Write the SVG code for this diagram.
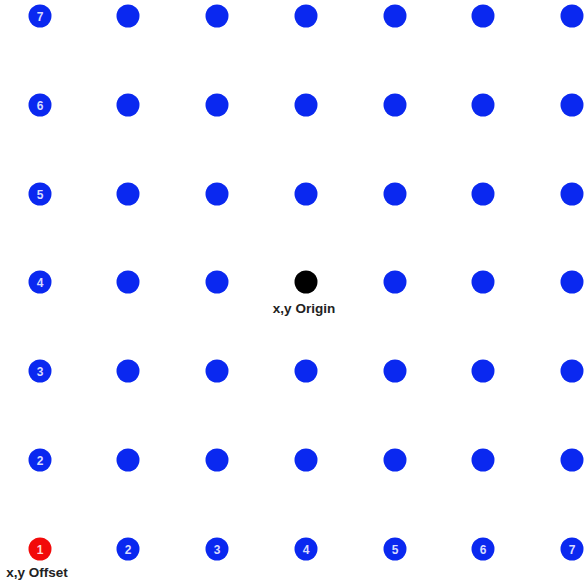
<svg xmlns="http://www.w3.org/2000/svg" width="587" height="583" viewBox="0 0 587 583">
<style>
.b{fill:#0a28f0}
.r{fill:#f20a0a}
.k{fill:#000}
.n{font-family:"Liberation Sans",Arial,sans-serif;font-size:12px;font-weight:bold;fill:#d8dcff;text-anchor:middle}
.l{font-family:"Liberation Sans",Arial,sans-serif;font-size:13.5px;font-weight:bold;fill:#222;text-anchor:middle}
</style>
<rect width="587" height="583" fill="#fff"/>
<g id="row7">
<g id="n-1-7"><circle class="b" cx="40" cy="16" r="11.5"/><text class="n" x="40" y="20.5">7</text></g>
<circle class="b" cx="128" cy="16" r="11.5"/><circle class="b" cx="217" cy="16" r="11.5"/><circle class="b" cx="306" cy="16" r="11.5"/><circle class="b" cx="395" cy="16" r="11.5"/><circle class="b" cx="483" cy="16" r="11.5"/><circle class="b" cx="572" cy="16" r="11.5"/>
</g>
<g id="row6">
<g id="n-1-6"><circle class="b" cx="40" cy="105" r="11.5"/><text class="n" x="40" y="109.5">6</text></g>
<circle class="b" cx="128" cy="105" r="11.5"/><circle class="b" cx="217" cy="105" r="11.5"/><circle class="b" cx="306" cy="105" r="11.5"/><circle class="b" cx="395" cy="105" r="11.5"/><circle class="b" cx="483" cy="105" r="11.5"/><circle class="b" cx="572" cy="105" r="11.5"/>
</g>
<g id="row5">
<g id="n-1-5"><circle class="b" cx="40" cy="194" r="11.5"/><text class="n" x="40" y="198.5">5</text></g>
<circle class="b" cx="128" cy="194" r="11.5"/><circle class="b" cx="217" cy="194" r="11.5"/><circle class="b" cx="306" cy="194" r="11.5"/><circle class="b" cx="395" cy="194" r="11.5"/><circle class="b" cx="483" cy="194" r="11.5"/><circle class="b" cx="572" cy="194" r="11.5"/>
</g>
<g id="row4">
<g id="n-1-4"><circle class="b" cx="40" cy="282" r="11.5"/><text class="n" x="40" y="286.5">4</text></g>
<circle class="b" cx="128" cy="282" r="11.5"/><circle class="b" cx="217" cy="282" r="11.5"/><circle class="b" cx="395" cy="282" r="11.5"/><circle class="b" cx="483" cy="282" r="11.5"/><circle class="b" cx="572" cy="282" r="11.5"/>
</g>
<g id="origin"><circle class="k" cx="306" cy="282" r="11.5"/><text class="l" x="304" y="313">x,y Origin</text></g>
<g id="row3">
<g id="n-1-3"><circle class="b" cx="40" cy="371" r="11.5"/><text class="n" x="40" y="375.5">3</text></g>
<circle class="b" cx="128" cy="371" r="11.5"/><circle class="b" cx="217" cy="371" r="11.5"/><circle class="b" cx="306" cy="371" r="11.5"/><circle class="b" cx="395" cy="371" r="11.5"/><circle class="b" cx="483" cy="371" r="11.5"/><circle class="b" cx="572" cy="371" r="11.5"/>
</g>
<g id="row2">
<g id="n-1-2"><circle class="b" cx="40" cy="460" r="11.5"/><text class="n" x="40" y="464.5">2</text></g>
<circle class="b" cx="128" cy="460" r="11.5"/><circle class="b" cx="217" cy="460" r="11.5"/><circle class="b" cx="306" cy="460" r="11.5"/><circle class="b" cx="395" cy="460" r="11.5"/><circle class="b" cx="483" cy="460" r="11.5"/><circle class="b" cx="572" cy="460" r="11.5"/>
</g>
<g id="row1">
<g id="offset"><circle class="r" cx="40" cy="549" r="11.5"/><text class="n" x="40" y="553.5" style="fill:#ffd8d8">1</text><text class="l" x="37" y="577">x,y Offset</text></g>
<g id="n-2-1"><circle class="b" cx="128" cy="549" r="11.5"/><text class="n" x="128" y="553.5">2</text></g>
<g id="n-3-1"><circle class="b" cx="217" cy="549" r="11.5"/><text class="n" x="217" y="553.5">3</text></g>
<g id="n-4-1"><circle class="b" cx="306" cy="549" r="11.5"/><text class="n" x="306" y="553.5">4</text></g>
<g id="n-5-1"><circle class="b" cx="395" cy="549" r="11.5"/><text class="n" x="395" y="553.5">5</text></g>
<g id="n-6-1"><circle class="b" cx="483" cy="549" r="11.5"/><text class="n" x="483" y="553.5">6</text></g>
<g id="n-7-1"><circle class="b" cx="572" cy="549" r="11.5"/><text class="n" x="572" y="553.5">7</text></g>
</g>
<g id="connectors"/>
</svg>
